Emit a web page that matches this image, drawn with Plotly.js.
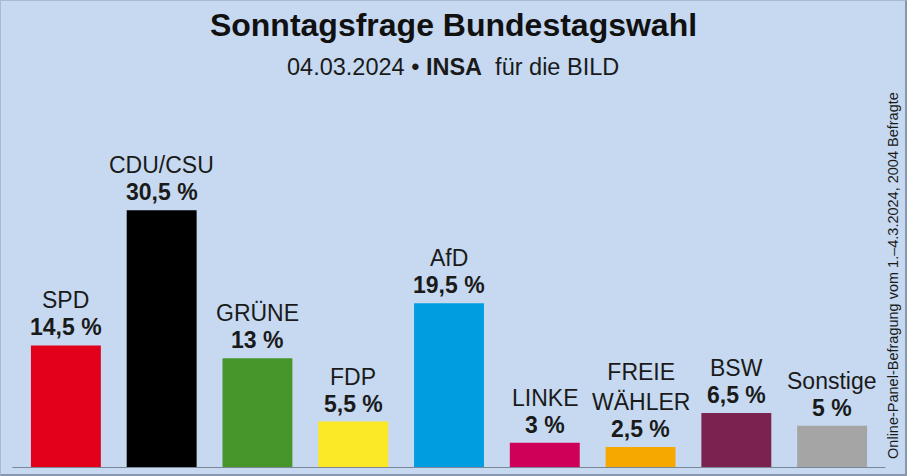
<!DOCTYPE html>
<html>
<head>
<meta charset="utf-8">
<script src="https://cdn.plot.ly/plotly-3.0.1.min.js"></script>
<style>
  html, body { margin: 0; padding: 0; background: #c6d9f0; }
  #wrap { position: relative; width: 907px; height: 476px; overflow: hidden; }
  #chart { width: 907px; height: 476px; }
  #frame { position: absolute; left: 0; top: 0; width: 907px; height: 476px; box-sizing: border-box;
           border-left: 1px solid #a9b9cf; border-top: 1px solid #a9b9cf;
           border-right: 2px solid #8596ae; border-bottom: 2px solid #8596ae; pointer-events: none; }
</style>
</head>
<body>
<div id="wrap"><div id="chart"></div><div id="frame"></div></div>
<script>
const parties = ["SPD", "CDU/CSU", "GRÜNE", "FDP", "AfD", "LINKE", "FREIE WÄHLER", "BSW", "Sonstige"];
const labelNames = ["SPD", "CDU/CSU", "GRÜNE", "FDP", "AfD", "LINKE", "FREIE<br>WÄHLER", "BSW", "Sonstige"];
const values = [14.5, 30.5, 13, 5.5, 19.5, 3, 2.5, 6.5, 5];
const colors = ["#e3001b", "#000000", "#46962b", "#fbe928", "#009ee0", "#cf0058", "#f6a800", "#7a2350", "#a5a5a5"];

const fmt = v => String(v).replace('.', ',') + ' %';
const labelFont = { family: 'Liberation Sans, Arial, sans-serif', size: 23, color: '#1a1a1a' };

const annotations = [];
parties.forEach((p, i) => {
  annotations.push({
    x: p, y: values[i], xref: 'x', yref: 'y',
    text: '<b>' + fmt(values[i]) + '</b>',
    showarrow: false, yanchor: 'bottom', yshift: 3, font: labelFont
  });
  annotations.push({
    x: p, y: values[i], xref: 'x', yref: 'y',
    text: labelNames[i],
    showarrow: false, yanchor: 'bottom', yshift: 30, font: labelFont
  });
});

annotations.push({
  xref: 'paper', yref: 'paper', x: 0.5046, y: 1.232, yanchor: 'top', xanchor: 'center',
  text: '04.03.2024 • <b>INSA</b>  für die BILD', showarrow: false,
  font: { family: 'Liberation Sans, Arial, sans-serif', size: 23.5, color: '#1a1a1a' }
});
annotations.push({
  xref: 'paper', yref: 'paper', x: 1.015, y: 0.571, xanchor: 'center', yanchor: 'middle',
  textangle: -90, text: 'Online-Panel-Befragung vom 1.–4.3.2024, 2004 Befragte', showarrow: false,
  font: { family: 'Liberation Sans, Arial, sans-serif', size: 14.5, color: '#1a1a1a' }
});

const data = [{
  type: 'bar', x: parties, y: values,
  marker: { color: colors, line: { width: 0 } },
  width: 0.73, hoverinfo: 'none'
}];

const layout = {
  width: 907, height: 476,
  margin: { l: 18, r: 27, t: 130, b: 8 },
  paper_bgcolor: '#c6d9f0', plot_bgcolor: '#c6d9f0',
  showlegend: false,
  title: {
    text: '<b>Sonntagsfrage Bundestagswahl</b>',
    font: { family: 'Liberation Sans, Arial, sans-serif', size: 32, color: '#111111' },
    xref: 'container', x: 0.5, yref: 'container', y: 0.971, yanchor: 'top'
  },
  xaxis: { type: 'category', range: [-0.5, 8.5], showticklabels: false, showgrid: false,
           zeroline: false, showline: false, ticks: '' },
  yaxis: { range: [0, 40], showticklabels: false, showgrid: false, zeroline: false, showline: false, ticks: '' },
  shapes: [{
    type: 'line', xref: 'paper', yref: 'y', x0: -0.0065, x1: 1.0063, y0: 0, y1: 0,
    line: { color: '#7b8696', width: 2 }, layer: 'above'
  }],
  annotations: annotations
};

Plotly.newPlot('chart', data, layout, { displayModeBar: false, staticPlot: true });
</script>
</body>
</html>
